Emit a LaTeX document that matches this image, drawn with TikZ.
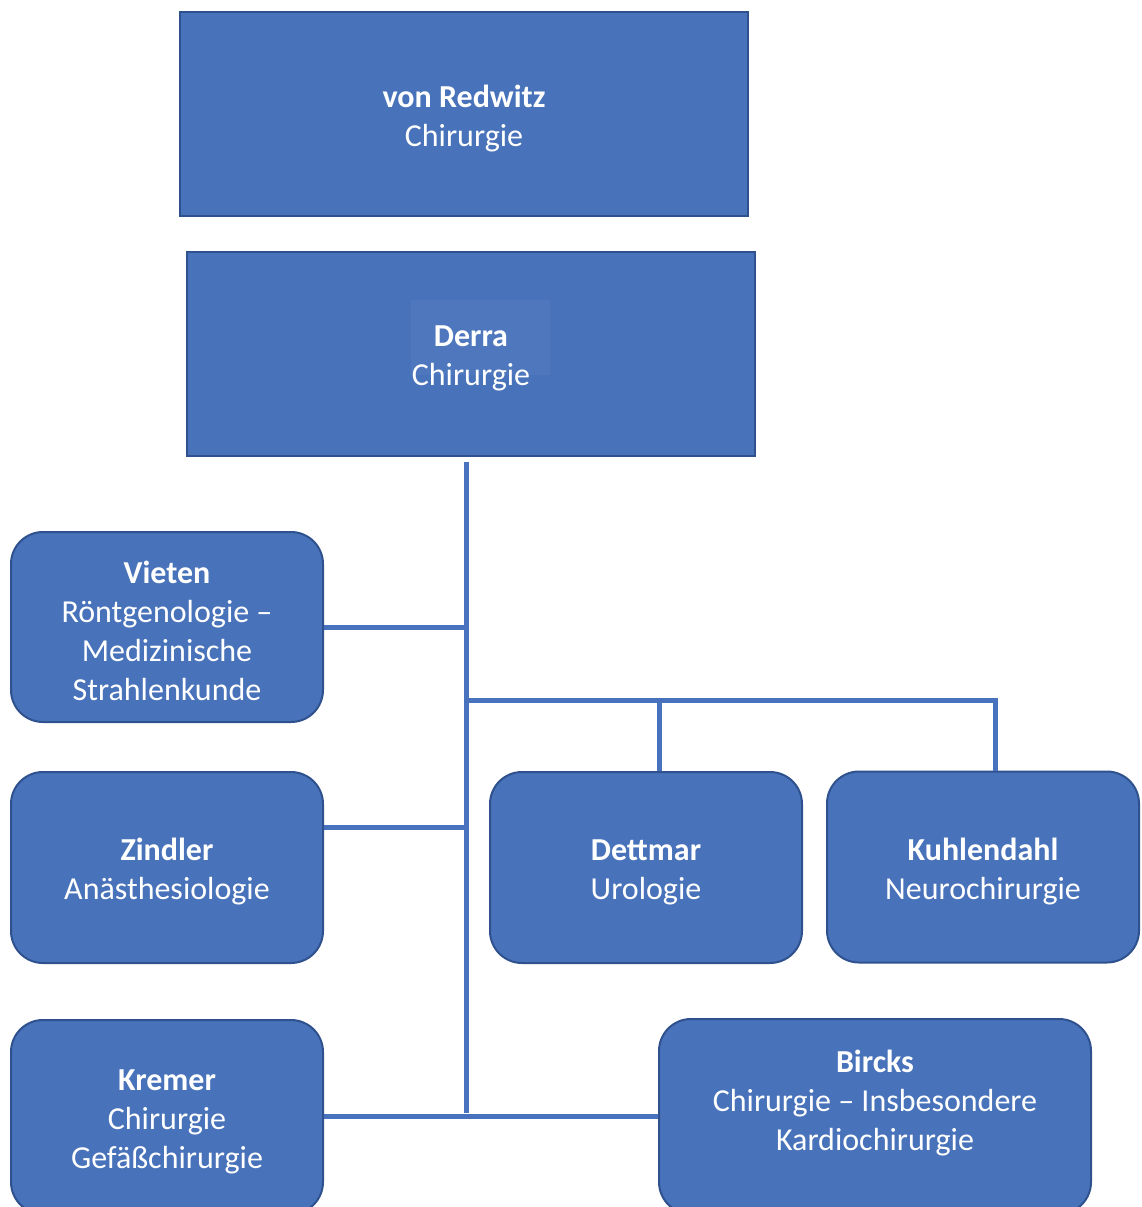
\documentclass[tikz,border=0pt]{standalone}
\usepackage{fontspec}
\setmainfont{Carlito}
\definecolor{orgfill}{RGB}{72,114,185}
\definecolor{orgline}{RGB}{47,82,143}
\definecolor{orglink}{RGB}{72,114,190}
\definecolor{orglight}{RGB}{79,119,190}
\newcommand{\headname}[1]{\rule{0pt}{31pt}\textbf{#1}}

\begin{document}
\begin{tikzpicture}[x=1pt,y=-1pt,font=\fontsize{32}{39}\selectfont,
  lbl/.style={text=white,align=center,inner sep=0pt},
  chair/.style={lbl,draw=orgline,line width=2pt,fill=orgfill,minimum width=568pt,minimum height=204pt},
  unit/.style={lbl,draw=orgline,line width=2pt,fill=orgfill,rounded corners=32pt,minimum width=312pt,minimum height=191pt},
  link/.style={draw=orglink,line width=5pt}]
\useasboundingbox (0,0) rectangle (1141,1207);
% chairs
\node[chair] (redwitz) at (464,114) {\headname{von Redwitz}\\Chirurgie};
\node[chair] (derra) at (471,353.5) {};
\fill[orglight] (411,300) rectangle (550,375);
\node[lbl] (derralbl) at (471,353) {\headname{Derra}\\Chirurgie};
% units
\node[unit,minimum height=190pt] (vieten) at (167,627) {\headname{Vieten}\\Röntgenologie –\\Medizinische\\Strahlenkunde};
\node[unit] (zindler) at (167,867.5) {\headname{Zindler}\\Anästhesiologie};
\node[unit] (dettmar) at (646,867.5) {\headname{Dettmar}\\Urologie};
\node[unit] (kuhlendahl) at (983,867) {\headname{Kuhlendahl}\\Neurochirurgie};
\node[unit,minimum height=194pt] (kremer) at (167,1117) {\headname{Kremer}\\Chirurgie\\Gefäßchirurgie};
\node[unit,minimum width=432pt,minimum height=195pt] (bircks) at (875,1116.5) {};
\node[lbl] (birckslbl) at (875,1099) {\headname{Bircks}\\Chirurgie – Insbesondere\\Kardiochirurgie};
% connectors
\coordinate (jb) at (466,700);
\coordinate (jz) at (466,827);
\coordinate (jk) at (466,1113);
\draw[link] ([yshift=-5pt]derra.south -| jk) -- (jk);
\draw[link] (vieten.east) -- (vieten.east -| jk);
\draw[link] (jz -| zindler.east) -- (jz);
\draw[link] ([yshift=-3pt]jk -| kremer.east) -- ([yshift=-3pt]jk -| bircks.west);
\draw[link] (jb) -| ([xshift=12pt]kuhlendahl.north);
\draw[link] ([xshift=13pt]dettmar.north) -- ([xshift=13pt]dettmar.north |- jb);
\end{tikzpicture}
\end{document}
